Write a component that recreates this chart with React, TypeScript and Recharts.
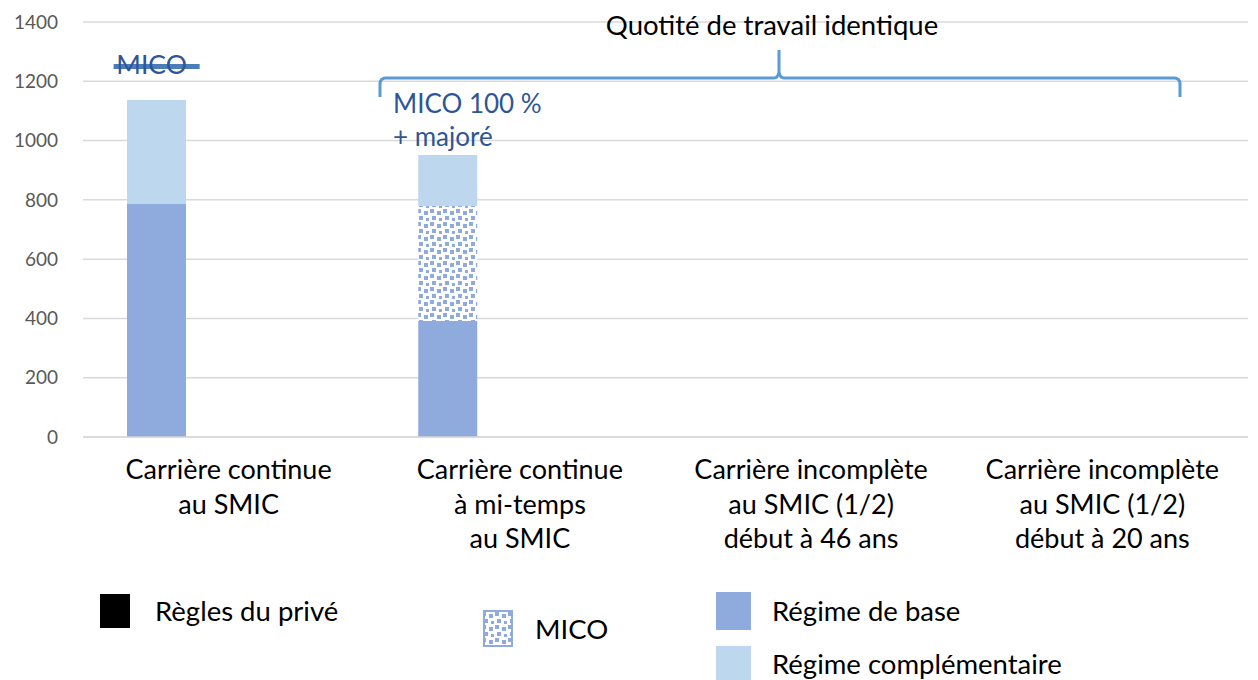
import React from 'react'
import { ComposedChart, Bar, Line, XAxis, YAxis, CartesianGrid } from 'recharts'

const categoryLines = [
  ['Carrière continue', 'au SMIC'],
  ['Carrière continue', 'à mi-temps', 'au SMIC'],
  ['Carrière incomplète', 'au SMIC (1/2)', 'début à 46 ans'],
  ['Carrière incomplète', 'au SMIC (1/2)', 'début à 20 ans'],
]
const categories = categoryLines.map((l) => l.join(' '))

const baseValues = [786, 391, 0, 0]
const micoValues = [0, 388, 0, 0]
const complValues = [351, 172, 0, 0]
const priveValues = [0, 0, 0, 0]
const micoMarker = [1250, null, null, null]

const yTicks = [0, 200, 400, 600, 800, 1000, 1200, 1400]

const data = categories.map((name, i) => ({
  name,
  base: baseValues[i],
  mico: micoValues[i],
  compl: complValues[i],
  prive: priveValues[i],
  spacer: 0,
  marker: micoMarker[i],
}))

const BAR = 59
const GAP = 13
const FONT = 'Lato, "Open Sans", sans-serif'

const XTick = (props: any) => {
  const { x, y, payload, index } = props
  const lines = categoryLines[index] || [payload.value]
  return (
    <text x={x} y={y + 40} textAnchor="middle" fontSize={27} fill="#000" fontFamily={FONT}>
      {lines.map((l: string, i: number) => (
        <tspan key={i} x={x} dy={i === 0 ? 0 : 34.5}>
          {l}
        </tspan>
      ))}
    </text>
  )
}

const MarkerDot = (props: any) => {
  const { cx, cy, value, index } = props
  if (value == null || cx == null) return <g key={index} />
  const c = cx - (BAR + GAP)
  return (
    <g key={index}>
      <line x1={c - 43} x2={c + 43} y1={cy} y2={cy} stroke="#4A7EBB" strokeWidth={5} />
      <text x={c - 5} y={cy + 8} textAnchor="middle" fontSize={26.5} fill="#2F5597" fontFamily={FONT}>
        MICO
      </text>
    </g>
  )
}

const Pattern = ({ id }: { id: string }) => (
  <pattern id={id} width="13" height="13" patternUnits="userSpaceOnUse">
    <rect width="13" height="13" fill="#fff" />
    <rect x="1" y="1" width="4" height="4" fill="#8FAADC" />
    <rect x="8" y="3" width="4" height="4" fill="#8FAADC" />
    <rect x="3" y="8" width="4" height="4" fill="#8FAADC" />
    <rect x="10" y="10" width="3" height="3" fill="#8FAADC" />
  </pattern>
)

export default function App() {
  return (
    <div style={{ position: 'absolute', left: 0, top: 0, width: 1258, height: 680, background: '#fff', fontFamily: FONT }}>
      <ComposedChart
        width={1258}
        height={600}
        data={data}
        margin={{ top: 22, right: 10, bottom: 43, left: 0 }}
        barSize={BAR}
        barGap={GAP}
      >
        <defs>
          <Pattern id="micoPat" />
        </defs>
        <CartesianGrid vertical={false} stroke="#D9D9D9" strokeWidth={1.5} />
        <XAxis
          dataKey="name"
          height={120}
          tickLine={false}
          axisLine={{ stroke: '#D9D9D9', strokeWidth: 1.5 }}
          tick={<XTick />}
          interval={0}
          tickSize={0}
        />
        <YAxis
          domain={[0, 1400]}
          ticks={yTicks}
          width={83}
          axisLine={false}
          tickLine={false}
          tickSize={0}
          tickMargin={25}
          tick={{ fontSize: 19, fill: '#595959', fontFamily: FONT }}
        />
        <Bar dataKey="base" stackId="a" fill="#8FAADC" isAnimationActive={false} />
        <Bar dataKey="mico" stackId="a" fill="url(#micoPat)" isAnimationActive={false} />
        <Bar dataKey="compl" stackId="a" fill="#BDD7EE" isAnimationActive={false} />
        <Bar dataKey="prive" stackId="b" fill="#000" isAnimationActive={false} />
        <Bar dataKey="spacer" stackId="c" fill="none" isAnimationActive={false} />
        <Line dataKey="marker" stroke="none" dot={<MarkerDot />} activeDot={false} isAnimationActive={false} />
      </ComposedChart>

      <svg width={1258} height={680} style={{ position: 'absolute', left: 0, top: 0, pointerEvents: 'none' }}>
        <defs>
          <Pattern id="micoLeg" />
        </defs>
        <text x={772} y={35} textAnchor="middle" fontSize={27.5} fill="#000" fontFamily={FONT}>
          Quotité de travail identique
        </text>
        <path
          d="M380,97 L380,84 Q380,78 386,78 L774,78 Q778,78 779,72 L779,50 L779,72 Q780,78 784,78 L1174,78 Q1180,78 1180,84 L1180,97"
          fill="none"
          stroke="#5B9BD5"
          strokeWidth={3}
        />
        <text x={393} y={113} fontSize={26} fill="#2F5597" fontFamily={FONT}>
          MICO 100 %
        </text>
        <text x={393} y={146} fontSize={26} fill="#2F5597" fontFamily={FONT}>
          + majoré
        </text>
        <rect x={100} y={594} width={30} height={34} fill="#000" />
        <text x={155} y={621} fontSize={27.5} fill="#000" fontFamily={FONT}>
          Règles du privé
        </text>
        <rect x={484} y={611} width={28} height={35} fill="url(#micoLeg)" stroke="#8FAADC" strokeWidth={2} />
        <text x={535} y={639} fontSize={27.5} fill="#000" fontFamily={FONT}>
          MICO
        </text>
        <rect x={716} y={592} width={35} height={38} fill="#8FAADC" />
        <text x={772} y={621} fontSize={27.5} fill="#000" fontFamily={FONT}>
          Régime de base
        </text>
        <rect x={716} y={646} width={35} height={34} fill="#BDD7EE" />
        <text x={772} y={674} fontSize={27.5} fill="#000" fontFamily={FONT}>
          Régime complémentaire
        </text>
      </svg>
    </div>
  )
}
